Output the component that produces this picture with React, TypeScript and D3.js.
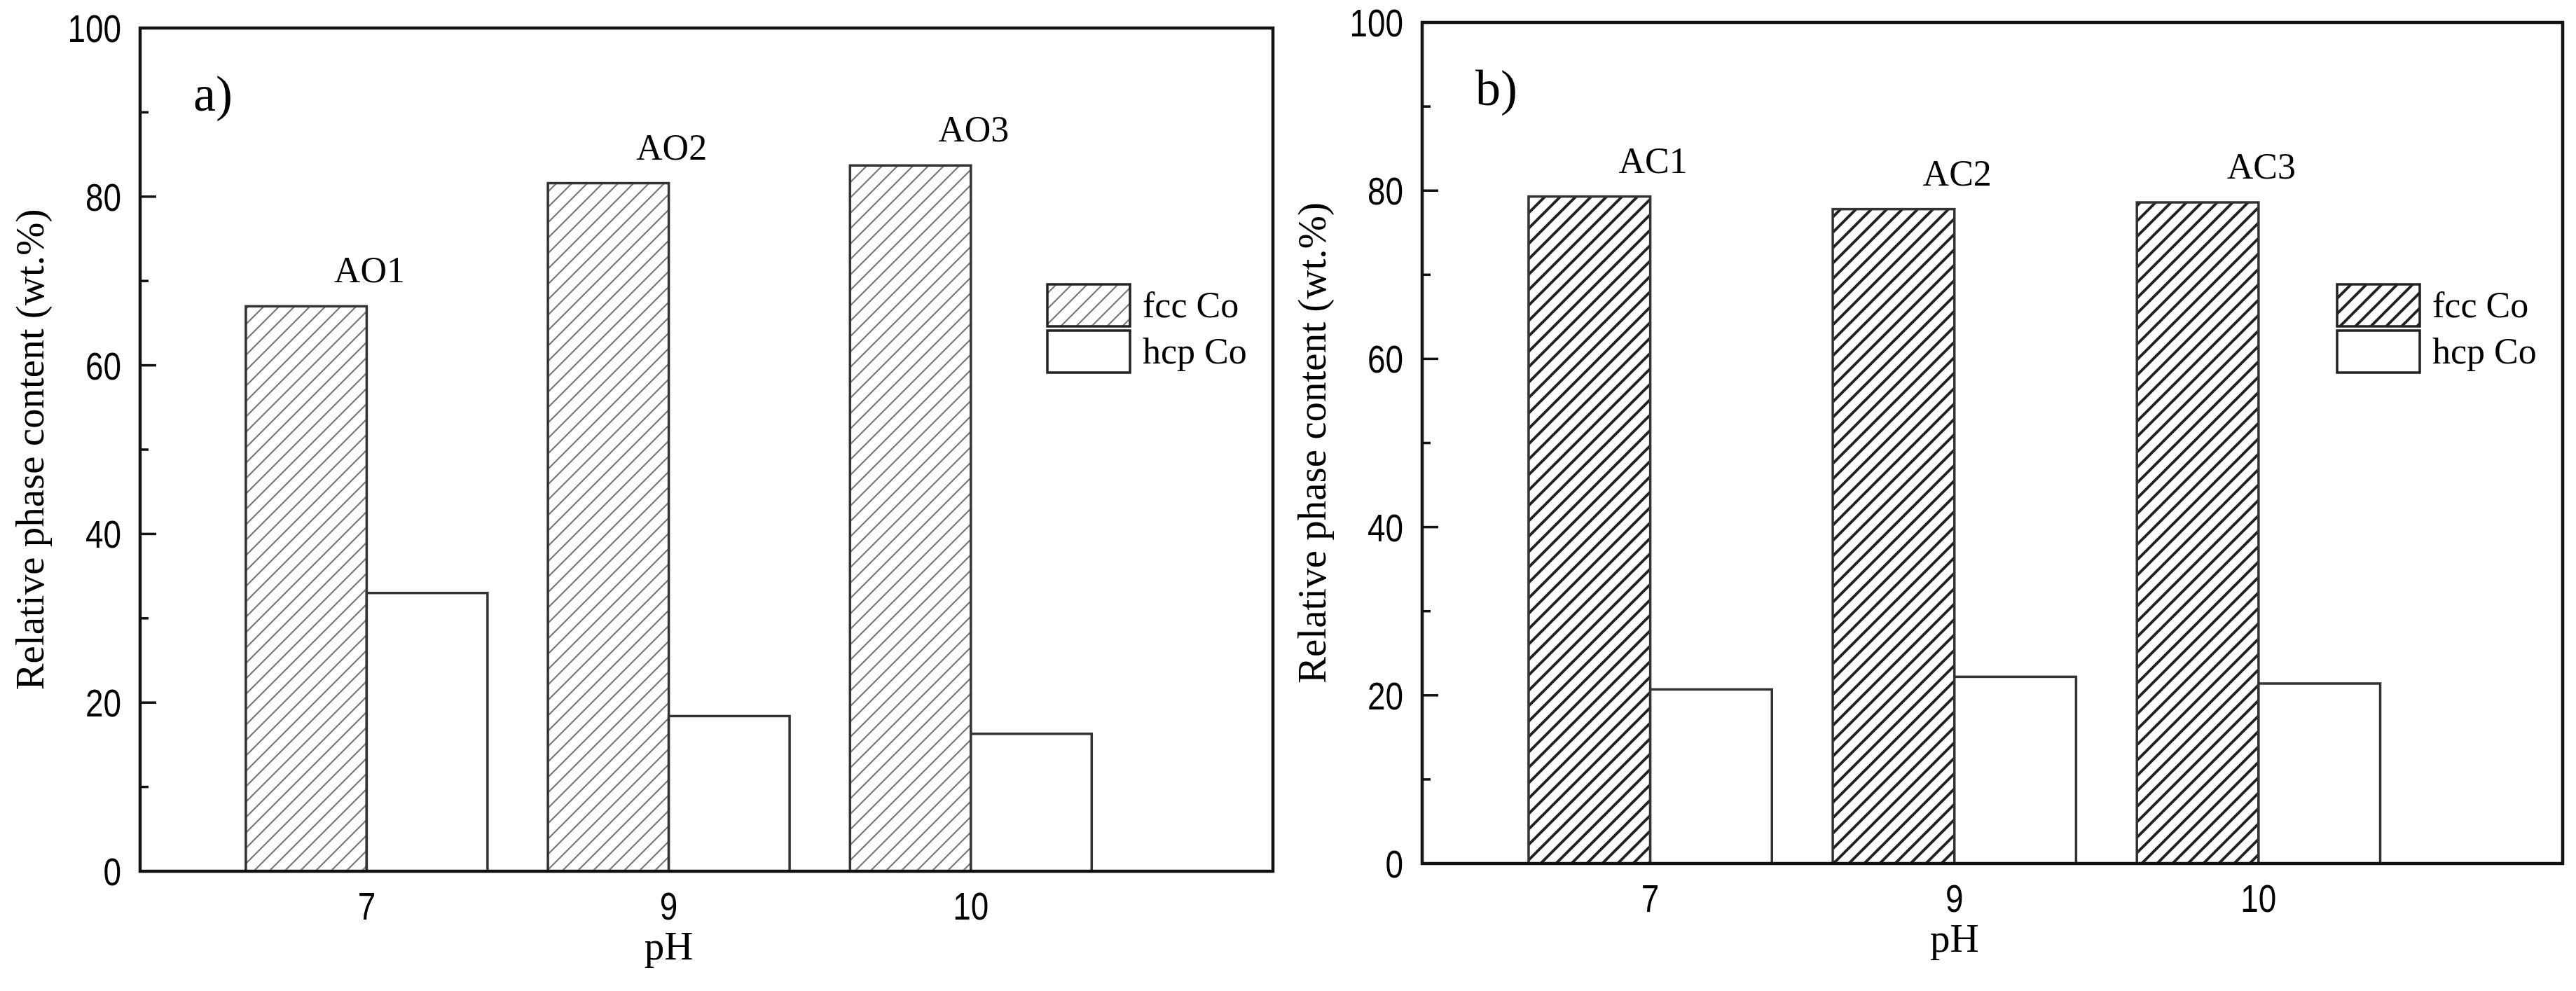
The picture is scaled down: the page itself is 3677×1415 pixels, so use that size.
import * as d3 from "d3";

// pH categories and sample names
const PH_LABELS = ["7", "9", "10"];
const SAMPLES_A = ["AO1", "AO2", "AO3"];
const SAMPLES_B = ["AC1", "AC2", "AC3"];

// relative phase content, wt.%
const FCC_A = [67.0, 81.6, 83.7];
const HCP_A = [33.0, 18.4, 16.3];
const FCC_B = [79.3, 77.8, 78.6];
const HCP_B = [20.7, 22.2, 21.4];

const Y_TICKS = [0, 20, 40, 60, 80, 100];
const SERIES_NAMES = ["fcc Co", "hcp Co"];

const W = 3677;
const H = 1415;
const BAR_W = 0.4;
const SERIF = "'Liberation Serif', 'Times New Roman', serif";
const SANS = "'Liberation Sans', Arial, sans-serif";
const TICK_FONT = 56;

interface PanelProps {
  id: string;
  letter: string;
  samples: string[];
  fcc: number[];
  hcp: number[];
  left: number;
  right: number;
  top: number;
  bottom: number;
  hatchColor: string;
  hatchWidth: number;
}

function Panel(p: PanelProps) {
  const x = d3.scaleLinear().domain([0.25, 4]).range([p.left, p.right]);
  const y = d3.scaleLinear().domain([0, 100]).range([p.bottom, p.top]);
  const minor = d3.range(10, 100, 20);
  const patId = `hatch-${p.id}`;
  const legX = p.right - 322;
  const legY = 406;

  return (
    <g>
      <defs>
        <pattern id={patId} patternUnits="userSpaceOnUse" width={22} height={22}>
          <path
            d="M0,22 L22,0 M-5.5,5.5 L5.5,-5.5 M16.5,27.5 L27.5,16.5"
            stroke={p.hatchColor}
            strokeWidth={p.hatchWidth}
          />
        </pattern>
      </defs>

      {/* bars */}
      {p.fcc.map((v, i) => (
        <rect
          key={`f${i}`}
          x={x(i + 1 - BAR_W)}
          y={y(v)}
          width={x(i + 1) - x(i + 1 - BAR_W)}
          height={y(0) - y(v)}
          fill={`url(#${patId})`}
          stroke="#333"
          strokeWidth={3.5}
        />
      ))}
      {p.hcp.map((v, i) => (
        <rect
          key={`h${i}`}
          x={x(i + 1)}
          y={y(v)}
          width={x(i + 1 + BAR_W) - x(i + 1)}
          height={y(0) - y(v)}
          fill="#fff"
          stroke="#333"
          strokeWidth={3.5}
        />
      ))}

      {/* sample labels */}
      {p.samples.map((s, i) => (
        <text
          key={s}
          x={x(i + 1) + 4}
          y={y(p.fcc[i]) - 34}
          textAnchor="middle"
          fontFamily={SERIF}
          fontSize={52}
        >
          {s}
        </text>
      ))}

      {/* frame */}
      <rect
        x={p.left}
        y={p.top}
        width={p.right - p.left}
        height={p.bottom - p.top}
        fill="none"
        stroke="#111"
        strokeWidth={4.5}
      />

      {/* y ticks */}
      {Y_TICKS.map((t) => (
        <g key={t}>
          {t > 0 && t < 100 && (
            <line x1={p.left} x2={p.left + 23} y1={y(t)} y2={y(t)} stroke="#111" strokeWidth={3.5} />
          )}
          <text
            transform={`translate(${p.left - 27},${y(t) + 20}) scale(0.82,1)`}
            textAnchor="end"
            fontFamily={SANS}
            fontSize={TICK_FONT}
          >
            {t}
          </text>
        </g>
      ))}
      {minor.map((t) => (
        <line key={t} x1={p.left} x2={p.left + 12} y1={y(t)} y2={y(t)} stroke="#111" strokeWidth={3.5} />
      ))}

      {/* x tick labels */}
      {PH_LABELS.map((l, i) => (
        <text
          key={l}
          transform={`translate(${x(i + 1)},${p.bottom + 69}) scale(0.82,1)`}
          textAnchor="middle"
          fontFamily={SANS}
          fontSize={TICK_FONT}
        >
          {l}
        </text>
      ))}

      {/* axis titles */}
      <text
        x={x(2)}
        y={p.bottom + 126}
        textAnchor="middle"
        fontFamily={SERIF}
        fontSize={57}
      >
        pH
      </text>
      <text
        transform={`translate(${p.left - 138},${(p.top + p.bottom) / 2}) rotate(-90)`}
        textAnchor="middle"
        fontFamily={SERIF}
        fontSize={57}
      >
        Relative phase content (wt.%)
      </text>

      {/* panel letter */}
      <text x={p.left + 76} y={p.top + 118} fontFamily={SERIF} fontSize={72}>
        {p.letter}
      </text>

      {/* legend */}
      {SERIES_NAMES.map((name, i) => (
        <g key={name}>
          <rect
            x={legX}
            y={legY + i * 66}
            width={118}
            height={60}
            fill={i === 0 ? `url(#${patId})` : "#fff"}
            stroke="#222"
            strokeWidth={3.5}
          />
          <text
            x={legX + 136}
            y={legY + i * 66 + 47}
            fontFamily={SERIF}
            fontSize={52}
          >
            {name}
          </text>
        </g>
      ))}
    </g>
  );
}

export default function App() {
  return (
    <div>
      <style>{`body{margin:0;background:#fff}`}</style>
      <svg width={W} height={H} style={{ display: "block" }}>
        <rect width={W} height={H} fill="#fff" />
        <Panel
          id="a"
          letter="a)"
          samples={SAMPLES_A}
          fcc={FCC_A}
          hcp={HCP_A}
          left={200}
          right={1817}
          top={40}
          bottom={1244}
          hatchColor="#777"
          hatchWidth={2.2}
        />
        <Panel
          id="b"
          letter="b)"
          samples={SAMPLES_B}
          fcc={FCC_B}
          hcp={HCP_B}
          left={2030}
          right={3658}
          top={32}
          bottom={1233}
          hatchColor="#222"
          hatchWidth={4}
        />
      </svg>
    </div>
  );
}
